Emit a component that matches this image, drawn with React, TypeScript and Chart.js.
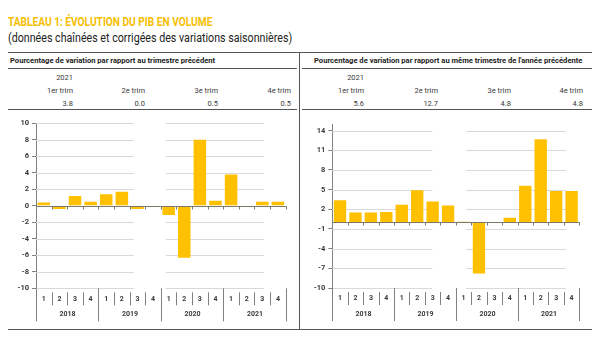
import React, { useEffect, useRef } from 'react';
import { Chart, registerables } from 'chart.js';

Chart.register(...registerables);

// ---------- DATA ----------
const categories = [
  '2018-1', '2018-2', '2018-3', '2018-4',
  '2019-1', '2019-2', '2019-3', '2019-4',
  '2020-1', '2020-2', '2020-3', '2020-4',
  '2021-1', '2021-2', '2021-3', '2021-4',
];
const quarterLabels = ['1', '2', '3', '4'];
const yearLabels = ['2018', '2019', '2020', '2021'];

const qoqValues = [0.4, -0.4, 1.2, 0.5, 1.4, 1.7, -0.4, -0.1, -1.1, -6.3, 8.0, 0.6, 3.8, 0.0, 0.5, 0.5];
const yoyValues = [3.4, 1.5, 1.5, 1.6, 2.7, 4.9, 3.2, 2.6, 0.1, -7.8, -0.1, 0.7, 5.6, 12.7, 4.8, 4.8];

const leftTicks = [-10, -8, -6, -4, -2, 0, 2, 4, 6, 8, 10];
const rightTicks = [-10, -7, -4, -1, 2, 5, 8, 11, 14];

const tableYear = '2021';
const trimLabels = ['1er trim', '2e trim', '3e trim', '4e trim'];
const qoqTable = ['3.8', '0.0', '0.5', '0.5'];
const yoyTable = ['5.6', '12.7', '4.8', '4.8'];

const titleText = 'TABLEAU 1: ÉVOLUTION DU PIB EN VOLUME';
const subtitleText = '(données chaînées et corrigées des variations saisonnières)';
const leftHeader = 'Pourcentage de variation par rapport au trimestre précédent';
const rightHeader = "Pourcentage de variation par rapport au même trimestre de l'année précédente";

// ---------- STYLE ----------
const BAR = '#FFC000';
const TEXT = '#3a3a3a';
const FONT = 'Roboto, "Liberation Sans", sans-serif';

const decoPlugin = {
  id: 'panelDeco',
  beforeDatasetsDraw(chart: any, _args: any, opts: any) {
    const { ctx, chartArea } = chart;
    const y = chart.scales.y;
    const w = chartArea.right - chartArea.left;
    ctx.save();
    ctx.strokeStyle = '#d9d9d9';
    ctx.lineWidth = 1;
    for (const v of opts.ticks) {
      const py = Math.round(y.getPixelForValue(v)) + 0.5;
      for (const [a, b] of opts.segments) {
        ctx.beginPath();
        ctx.moveTo(chartArea.left + a * w, py);
        ctx.lineTo(chartArea.left + b * w, py);
        ctx.stroke();
      }
    }
    ctx.restore();
  },
  afterDatasetsDraw(chart: any) {
    const { ctx, chartArea } = chart;
    const x = chart.scales.x;
    const y = chart.scales.y;
    const n = chart.data.labels.length;
    const half = (x.getPixelForValue(1) - x.getPixelForValue(0)) / 2;
    const bound = (i: number) => Math.round(x.getPixelForValue(0) - half + i * half * 2) + 0.5;
    const y0 = Math.round(y.getPixelForValue(0)) + 0.5;
    ctx.save();
    // zero line
    ctx.strokeStyle = '#7c7a6a';
    ctx.lineWidth = 1;
    ctx.beginPath();
    ctx.moveTo(chartArea.left, y0);
    ctx.lineTo(bound(n), y0);
    ctx.stroke();
    for (let i = 1; i <= n; i++) {
      ctx.beginPath();
      ctx.moveTo(bound(i), y0);
      ctx.lineTo(bound(i), y0 + 3);
      ctx.stroke();
    }
    // category separators
    const bottom = chartArea.bottom;
    ctx.strokeStyle = '#808080';
    for (let i = 0; i <= n; i++) {
      ctx.beginPath();
      if (i % 4 === 0) {
        ctx.moveTo(bound(i), bottom);
        ctx.lineTo(bound(i), bottom + 33);
      } else {
        ctx.moveTo(bound(i), bottom + 4);
        ctx.lineTo(bound(i), bottom + 17);
      }
      ctx.stroke();
    }
    // labels
    ctx.fillStyle = TEXT;
    ctx.textAlign = 'center';
    ctx.textBaseline = 'middle';
    ctx.font = 'bold 7px ' + FONT;
    for (let i = 0; i < n; i++) {
      ctx.fillText(quarterLabels[i % 4], x.getPixelForValue(i), bottom + 10.5);
    }
    for (let k = 0; k < yearLabels.length; k++) {
      const cx = (bound(k * 4) + bound(k * 4 + 4)) / 2;
      ctx.fillText(yearLabels[k], cx, bottom + 26);
    }
    ctx.restore();
  },
};

type PanelProps = {
  left: number; top: number; width: number; height: number;
  values: number[]; min: number; max: number; ticks: number[];
  axisWidth: number; pad: { top: number; right: number; bottom: number };
  segments: number[][];
};

function Panel(p: PanelProps) {
  const ref = useRef<HTMLCanvasElement>(null);
  useEffect(() => {
    const chart = new Chart(ref.current as HTMLCanvasElement, {
      type: 'bar',
      data: {
        labels: categories,
        datasets: [{
          data: p.values,
          backgroundColor: BAR,
          borderWidth: 0,
          barPercentage: 0.8,
          categoryPercentage: 1,
        }],
      },
      options: {
        animation: false,
        responsive: false,
        devicePixelRatio: 1,
        layout: { padding: { left: 0, top: p.pad.top, right: p.pad.right, bottom: p.pad.bottom } },
        plugins: {
          legend: { display: false },
          tooltip: { enabled: false },
          panelDeco: { ticks: p.ticks, segments: p.segments },
        } as any,
        scales: {
          x: { display: false, offset: true },
          y: {
            min: p.min,
            max: p.max,
            afterBuildTicks: (scale: any) => { scale.ticks = p.ticks.map((v) => ({ value: v })); },
            afterFit: (scale: any) => { scale.width = p.axisWidth; },
            grid: { display: true, drawOnChartArea: false, drawTicks: true, tickLength: 4, color: '#808080' },
            border: { display: true, color: '#808080', width: 1 },
            ticks: {
              padding: 3,
              color: TEXT,
              font: { family: FONT, size: 7.5, weight: 'bold' },
            },
          },
        },
      },
      plugins: [decoPlugin],
    });
    return () => chart.destroy();
  }, []);
  return (
    <canvas
      ref={ref}
      width={p.width}
      height={p.height}
      style={{ position: 'absolute', left: p.left, top: p.top, width: p.width, height: p.height }}
    />
  );
}

const line = (left: number, top: number, width: number, height: number, color = '#555') => (
  <div style={{ position: 'absolute', left, top, width, height, background: color }} />
);

const txt = (s: string, style: any) => (
  <div style={{ position: 'absolute', whiteSpace: 'nowrap', ...style }}>{s}</div>
);

function Table(props: { xs: number[]; yearX: number; values: string[] }) {
  const cell = { fontFamily: FONT, fontSize: 7.5, color: TEXT, lineHeight: '10px', textAlign: 'right' as const };
  return (
    <>
      {txt(tableYear, { ...cell, right: 600 - props.yearX, top: 73 })}
      {trimLabels.map((t, i) => txt(t, { ...cell, right: 600 - props.xs[i], top: 86 }))}
      {props.values.map((v, i) => txt(v, { ...cell, right: 600 - props.xs[i], top: 99 }))}
    </>
  );
}

export default function App() {
  return (
    <div style={{ position: 'absolute', left: 0, top: 0, width: 600, height: 364, background: '#fff', overflow: 'hidden' }}>
      {txt(titleText, { left: 8, top: 15, fontFamily: FONT, fontWeight: 'bold', fontSize: 13, lineHeight: '13px', color: '#F5BE00', transform: 'scaleX(0.78)', transformOrigin: 'left center' })}
      {txt(subtitleText, { left: 8, top: 32, fontFamily: FONT, fontSize: 12, lineHeight: '12px', color: '#222', transform: 'scaleX(0.89)', transformOrigin: 'left center' })}
      {line(8, 52, 584, 1)}
      {line(299, 52, 1, 278)}
      {txt(leftHeader, { left: 10, top: 56, fontFamily: FONT, fontWeight: 'bold', fontSize: 7.6, lineHeight: '10px', color: '#222' })}
      {txt(rightHeader, { left: 314, top: 56, fontFamily: FONT, fontWeight: 'bold', fontSize: 7.6, lineHeight: '10px', color: '#222' })}
      {line(8, 68, 289, 1)}
      {line(302, 68, 290, 1)}
      <Table xs={[73, 145, 218, 291]} yearX={73} values={qoqTable} />
      <Table xs={[364, 438, 511, 583]} yearX={364} values={yoyTable} />
      {line(8, 109, 289, 1)}
      {line(302, 109, 290, 1)}
      {line(8, 329, 584, 1)}
      <Panel
        left={0} top={115} width={298} height={212}
        values={qoqValues} min={-10} max={10} ticks={leftTicks}
        axisWidth={36} pad={{ top: 8.3, right: 12.3, bottom: 38.7 }}
        segments={[[0, 0.392], [0.52, 0.913]]}
      />
      <Panel
        left={300} top={115} width={292} height={212}
        values={yoyValues} min={-10} max={15} ticks={rightTicks}
        axisWidth={32.3} pad={{ top: 9.1, right: 12.7, bottom: 39 }}
        segments={[[0, 0.405], [0.542, 0.947]]}
      />
    </div>
  );
}
